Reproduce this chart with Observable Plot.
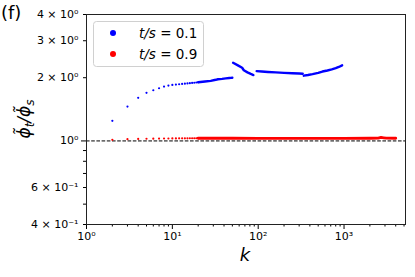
<!DOCTYPE html>
<html>
<head>
<meta charset="utf-8">
<script src="https://cdn.jsdelivr.net/npm/d3@7"></script>
<script src="https://cdn.jsdelivr.net/npm/@observablehq/plot@0.6"></script>
<style>
  html, body { margin: 0; padding: 0; background: #fff; }
  #chart { width: 415px; height: 277px; }
</style>
</head>
<body>
<div id="chart"></div>
<script>
// ---- data ----
const seriesLabels = ["t/s = 0.1", "t/s = 0.9"];
const seriesColors = ["#0000ff", "#ff0000"];

// blue (t/s = 0.1): sparse points, k = 2..20
const blueDotK = [2,3,4,5,6,7,8,9,10,11,12,13,14,15,16,17,18,19,20];
const blueDotV = [1.247,1.458,1.604,1.694,1.743,1.782,1.815,1.835,1.849,1.856,1.862,1.868,1.874,1.879,1.883,1.888,1.893,1.898,1.903];
// blue dense pieces (seg id, k, value)
const blueSeg = [1,1,1,1,1,1,1,1,1,1, 2,2,2,2,2,2,2, 3,3,3,3,3,3,3,3, 4,4,4,4,4,4,4,4,4,4];
const blueK   = [20,24,28,32,34,38,42,46,48,50, 51,58,65,68,75,82,88, 96,110,130,160,200,250,300,330, 340,380,430,500,560,640,720,800,870,950];
const blueV   = [1.903,1.918,1.932,1.955,1.967,1.975,1.985,1.993,1.997,2.0, 2.355,2.29,2.23,2.17,2.12,2.085,2.06, 2.15,2.14,2.13,2.12,2.11,2.10,2.095,2.09, 2.045,2.06,2.08,2.11,2.14,2.165,2.19,2.22,2.25,2.29];

// red (t/s = 0.9)
const redDotK = [2,3,4,5,6,7,8,9,10,11,12,13,14,15,16,17,18,19,20];
const redDotV = [1.012,1.02,1.022,1.024,1.025,1.026,1.027,1.027,1.028,1.028,1.029,1.029,1.029,1.029,1.03,1.03,1.03,1.03,1.03];
const redK = [20,50,100,300,1000,2000,2500,2700,2900,3100,4000];
const redV = [1.03,1.03,1.029,1.029,1.029,1.03,1.031,1.039,1.035,1.031,1.03];

// ticks
const xMajor = [1, 10, 100, 1000];
const xMajorLabels = ["10\u2070", "10\u00b9", "10\u00b2", "10\u00b3"];
const xMinor = [2,3,4,5,6,7,8,9,20,30,40,50,60,70,80,90,200,300,400,500,600,700,800,900,2000,3000,4000,5000];
const yMajor = [1];
const yLabeledMinor = [0.4, 0.6, 2, 3, 4];
const yLabeledMinorText = ["4 \u00d7 10\u207b\u00b9", "6 \u00d7 10\u207b\u00b9", "2 \u00d7 10\u2070", "3 \u00d7 10\u2070", "4 \u00d7 10\u2070"];
const yMinor = [0.5, 0.7, 0.8, 0.9];

// ---- build tables ----
const blueDots = blueDotK.map((k, i) => ({k, v: blueDotV[i]}));
const blueLine = blueK.map((k, i) => ({k, v: blueV[i], seg: blueSeg[i]}));
const redDots = redDotK.map((k, i) => ({k, v: redDotV[i]}));
const redLine = redK.map((k, i) => ({k, v: redV[i]}));

const font = "DejaVu Sans, sans-serif";

const plot = Plot.plot({
  width: 415,
  height: 277,
  marginLeft: 86,
  marginRight: 10,
  marginTop: 14,
  marginBottom: 53,
  style: {fontFamily: font, fontSize: "10px", color: "black", background: "white"},
  x: {type: "log", domain: [1, 5200], label: null},
  y: {type: "log", domain: [0.4, 4], label: null},
  marks: [
    Plot.ruleY([1], {stroke: "black", strokeWidth: 1, strokeDasharray: "3.6,1.6"}),
    Plot.dot(redDots, {x: "k", y: "v", r: 1.1, fill: seriesColors[1], stroke: "none"}),
    Plot.line(redLine, {x: "k", y: "v", stroke: seriesColors[1], strokeWidth: 2.8}),
    Plot.dot(blueDots, {x: "k", y: "v", r: 1.1, fill: seriesColors[0], stroke: "none"}),
    Plot.line(blueLine, {x: "k", y: "v", z: "seg", stroke: seriesColors[0], strokeWidth: 2.4}),
    Plot.axisX(xMajor, {tickSize: 5, tickPadding: 3, fontSize: 11, tickFormat: (d) => xMajorLabels[xMajor.indexOf(d)], label: null}),
    Plot.axisX(xMinor, {tickSize: 2.5, tickFormat: () => "", label: null}),
    Plot.axisY(yMajor, {tickSize: 5, tickPadding: 3, fontSize: 11, tickFormat: () => "10\u2070", label: null}),
    Plot.axisY(yLabeledMinor, {tickSize: 3, tickPadding: 5, fontSize: 11, tickFormat: d => yLabeledMinorText[yLabeledMinor.indexOf(d)], label: null}),
    Plot.axisY(yMinor, {tickSize: 3, tickFormat: () => "", label: null}),
    Plot.frame({stroke: "#222", strokeWidth: 1})
  ]
});

document.getElementById("chart").appendChild(plot);

// ---- extra text: panel tag, axis labels, legend ----
const svg = d3.select(plot);

svg.append("text")
  .attr("x", 1).attr("y", 19)
  .attr("text-anchor", "start")
  .attr("font-family", font).attr("font-size", 18)
  .text("(f)");

svg.append("text")
  .attr("x", 245).attr("y", 261)
  .attr("text-anchor", "middle")
  .attr("font-family", font).attr("font-size", 18).attr("font-style", "italic")
  .text("k");

const yl = svg.append("text")
  .attr("transform", "translate(30,119) rotate(-90)")
  .attr("text-anchor", "middle")
  .attr("font-family", font).attr("font-size", 17).attr("font-style", "italic");
yl.append("tspan").text("\u03d5\u0303");
yl.append("tspan").attr("dy", 4).attr("font-size", 12).text("t");
yl.append("tspan").attr("dy", -4).text("/\u03d5\u0303");
yl.append("tspan").attr("dy", 4).attr("font-size", 12).text("s");

const lg = svg.append("g");
lg.append("rect")
  .attr("x", 93.5).attr("y", 21.5).attr("width", 110).attr("height", 45)
  .attr("rx", 3).attr("fill", "white").attr("fill-opacity", 0.8)
  .attr("stroke", "#d0d0d0").attr("stroke-width", 1);
[0, 1].forEach(i => {
  const cy = 33 + i * 21;
  lg.append("circle").attr("cx", 113).attr("cy", cy).attr("r", 3)
    .attr("fill", seriesColors[i]);
  const parts = seriesLabels[i].split(" = ");
  const t = lg.append("text")
    .attr("x", 139).attr("y", cy + 5)
    .attr("text-anchor", "start")
    .attr("font-family", font).attr("font-size", 13.5);
  t.append("tspan").attr("font-style", "italic").text(parts[0]);
  t.append("tspan").text(" = " + parts[1]);
});
</script>
</body>
</html>
